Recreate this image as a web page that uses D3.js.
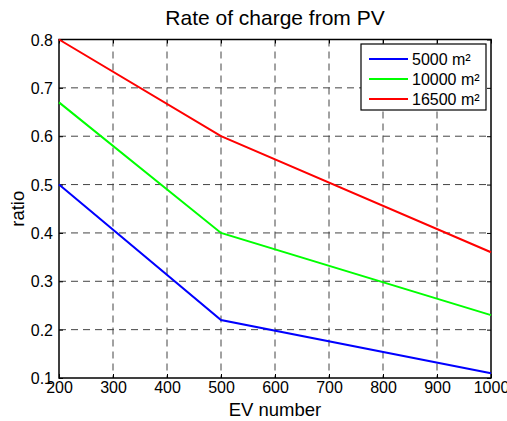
<!DOCTYPE html>
<html>
<head>
<meta charset="utf-8">
<script src="https://cdn.jsdelivr.net/npm/d3@7"></script>
<style>
  body { margin: 0; background: #fff; }
  svg { font-family: "Liberation Sans", Arial, sans-serif; }
</style>
</head>
<body>
<div id="chart"></div>
<script>
// values
const evNumbers = [200, 500, 1000];
const area5000 = [0.5, 0.22, 0.11];
const area10000 = [0.67, 0.40, 0.23];
const area16500 = [0.80, 0.60, 0.36];
const seriesNames = ["5000 m²", "10000 m²", "16500 m²"];
const seriesColors = ["#0000ff", "#00ff00", "#ff0000"];
const xTicks = [200, 300, 400, 500, 600, 700, 800, 900, 1000];
const yTicks = [0.1, 0.2, 0.3, 0.4, 0.5, 0.6, 0.7, 0.8];

const width = 507;
const height = 421;
const margin = { top: 39.5, right: 16, bottom: 43, left: 59 };
const innerW = width - margin.left - margin.right;
const innerH = height - margin.top - margin.bottom;

const svg = d3.select("#chart").append("svg")
    .attr("width", width)
    .attr("height", height);

const g = svg.append("g").attr("transform", `translate(${margin.left},${margin.top})`);

const x = d3.scaleLinear().domain([200, 1000]).range([0, innerW]);
const y = d3.scaleLinear().domain([0.1, 0.8]).range([innerH, 0]);

// grid
g.selectAll("line.vgrid")
    .data(xTicks.slice(1, -1))
    .enter()
    .append("line")
    .attr("x1", d => x(d)).attr("x2", d => x(d))
    .attr("y1", 0).attr("y2", innerH)
    .attr("stroke", "#444")
    .attr("stroke-width", 1)
    .attr("stroke-dasharray", "7,5");

g.selectAll("line.hgrid")
    .data(yTicks.slice(1, -1))
    .enter()
    .append("line")
    .attr("x1", 0).attr("x2", innerW)
    .attr("y1", d => y(d)).attr("y2", d => y(d))
    .attr("stroke", "#444")
    .attr("stroke-width", 1)
    .attr("stroke-dasharray", "7,5");

// axes, MATLAB style with ticks inside
const xAxis = g.append("g")
    .attr("transform", `translate(0,${innerH})`)
    .call(d3.axisBottom(x).tickValues(xTicks).tickSize(-4).tickPadding(7).tickFormat(d3.format("d")));
const yAxis = g.append("g")
    .call(d3.axisLeft(y).tickValues(yTicks).tickSize(-4).tickPadding(6).tickFormat(d3.format(".1f")));

g.append("g")
    .call(d3.axisTop(x).tickValues(xTicks).tickSize(-4).tickFormat(""));
g.append("g")
    .attr("transform", `translate(${innerW},0)`)
    .call(d3.axisRight(y).tickValues(yTicks).tickSize(-4).tickFormat(""));

svg.selectAll(".domain").remove();
svg.selectAll(".tick line").attr("stroke", "#000");
[xAxis, yAxis].forEach(a => a.selectAll("text")
    .style("font-size", "16px")
    .style("font-family", "Liberation Sans, Arial, sans-serif")
    .attr("fill", "#000"));
xAxis.selectAll("text").attr("dy", "0.5em");
yAxis.selectAll("text").attr("dy", "0.35em");

g.append("rect")
    .attr("width", innerW)
    .attr("height", innerH)
    .attr("fill", "none")
    .attr("stroke", "#000")
    .attr("stroke-width", 1.5);

// lines
const line = d3.line()
    .x(d => x(d.ev))
    .y(d => y(d.v));

[area5000, area10000, area16500].forEach((vals, i) => {
    g.append("path")
        .datum(evNumbers.map((ev, j) => ({ ev, v: vals[j] })))
        .attr("d", line)
        .attr("fill", "none")
        .attr("stroke", seriesColors[i])
        .attr("stroke-width", 2);
});

// legend
const legend = g.append("g").attr("transform", `translate(${innerW - 130},4.5)`);
legend.append("rect")
    .attr("width", 125)
    .attr("height", 66)
    .attr("fill", "#fff")
    .attr("stroke", "#000")
    .attr("stroke-width", 1.2);

seriesNames.forEach((name, i) => {
    const row = legend.append("g").attr("transform", `translate(0,${15 + i * 20})`);
    row.append("line")
        .attr("x1", 8).attr("x2", 47)
        .attr("stroke", seriesColors[i])
        .attr("stroke-width", 2);
    row.append("text")
        .attr("x", 51)
        .attr("dy", "0.35em")
        .style("font-size", "16px")
        .text(name);
});

// titles
svg.append("text")
    .attr("x", margin.left + innerW / 2)
    .attr("y", 25)
    .attr("text-anchor", "middle")
    .style("font-size", "21px")
    .text("Rate of charge from PV");

svg.append("text")
    .attr("x", margin.left + innerW / 2)
    .attr("y", 416)
    .attr("text-anchor", "middle")
    .style("font-size", "18.5px")
    .text("EV number");

svg.append("text")
    .attr("transform", "rotate(-90)")
    .attr("x", -(margin.top + innerH / 2))
    .attr("y", 24)
    .attr("text-anchor", "middle")
    .style("font-size", "18.5px")
    .text("ratio");
</script>
</body>
</html>
